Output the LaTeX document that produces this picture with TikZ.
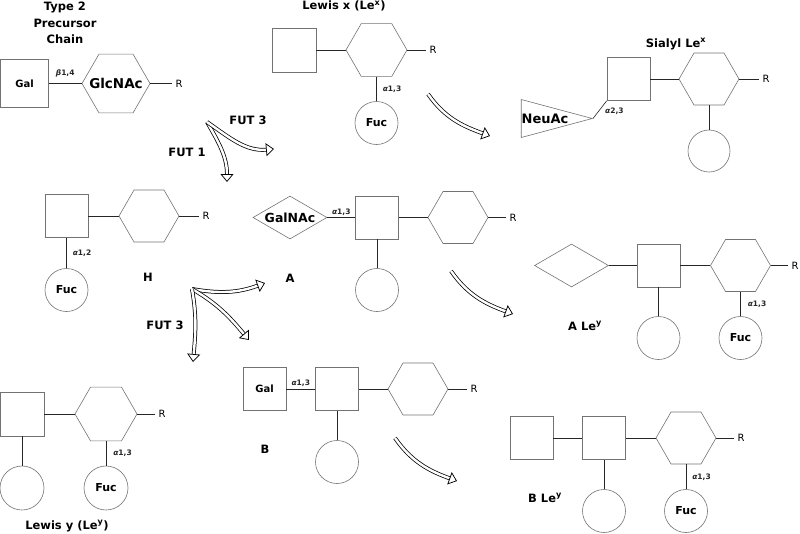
\documentclass[tikz,border=0pt]{standalone}
\usepackage{fontspec}
\setmainfont{DejaVu Sans}
\usetikzlibrary{shapes.geometric, arrows.meta, positioning}
\tikzset{
    base/.style={font=\bfseries\fontsize{11}{13}\selectfont, inner sep=0pt, draw=black!55, line width=0.6pt},
    galsq/.style={base, rectangle, minimum size=43pt},
    hexring/.style={base, regular polygon, regular polygon sides=6, minimum size=60pt},
    fucring/.style={base, circle, minimum size=43pt},
    galnac/.style={base, diamond, minimum width=74pt, minimum height=43pt},
    neutri/.style={base, isosceles triangle, isosceles triangle stretches, minimum width=38pt, minimum height=71pt},
    bigtext/.style={font=\bfseries\fontsize{12.5}{14}\selectfont, inner sep=0pt},
    rest/.style={font=\fontsize{10}{12}\selectfont, inner sep=3pt},
    bond/.style={line width=0.6pt, color=black!85},
    linkage/.style={font=\bfseries\fontsize{7.5}{9}\selectfont, inner sep=1pt},
    title/.style={font=\bfseries\fontsize{11.5}{16.5}\selectfont, align=center},
    hollow/.style={line width=0.75pt, double=white, double distance=2.4pt, -{Triangle[open, length=8pt, width=13pt]}}
}
\newcommand{\alp}{{\itshape α}}
\newcommand{\bet}{{\itshape β}}
\begin{document}
\begin{tikzpicture}[x=1pt, y=1pt]
    \useasboundingbox (0,0) rectangle (800,-533);

    % Type 2 precursor chain
    \node[title] (tType) at (65,-23) {Type 2\\Precursor\\Chain};
    \node[galsq, minimum size=48pt, font=\bfseries\fontsize{10}{12}\selectfont] (gal0) at (24.5,-83.5) {Gal};
    \node[hexring, minimum size=68pt, label={[bigtext, font=\bfseries\fontsize{13.5}{15}\selectfont]center:GlcNAc}] (glc0) at (116,-83.5) {};
    \node[rest] (r0) at (179,-83.5) {R};
    \draw[bond] (gal0) -- (glc0) node[linkage, midway, above=5pt] {\bet1,4};
    \draw[bond] (glc0) -- (r0);

    % Lewis x
    \node[title] (tLx) at (344,-6) {Lewis x (Le\textsuperscript{x})};
    \node[galsq, minimum size=44pt] (galLx) at (294,-50) {};
    \node[hexring, minimum size=61pt] (glcLx) at (376.5,-50) {};
    \node[rest] (rLx) at (433,-50) {R};
    \node[fucring] (fucLx) at (376.5,-123) {Fuc};
    \draw[bond] (galLx) -- (glcLx);
    \draw[bond] (glcLx) -- (rLx);
    \draw[bond] (glcLx) -- (fucLx) node[linkage, midway, right=5pt] {\alp1,3};

    % Sialyl Lewis x
    \node[title] (tSLx) at (676,-44) {Sialyl Le\textsuperscript{x}};
    \node[galsq] (galSLx) at (628.5,-79) {};
    \node[hexring] (glcSLx) at (709,-79) {};
    \node[rest] (rSLx) at (766,-79) {R};
    \node[fucring, minimum size=42pt] (fucSLx) at (709,-151) {};
    \node[neutri, anchor=apex] (neuSLx) at (593,-118.5) {};
    \node[bigtext, font=\bfseries\fontsize{13}{15}\selectfont] (neuText) at (545,-119) {NeuAc};
    \draw[bond] (galSLx) -- (glcSLx);
    \draw[bond] (glcSLx) -- (rSLx);
    \draw[bond] (glcSLx) -- (fucSLx);
    \draw[bond] (neuSLx.apex) -- (galSLx.south west) node[linkage, midway, right=4pt, yshift=-2pt] {\alp2,3};

    % H
    \node[galsq] (galH) at (66.5,-216) {};
    \node[hexring] (glcH) at (149,-216) {};
    \node[rest] (rH) at (206,-216) {R};
    \node[fucring] (fucH) at (66.5,-290) {Fuc};
    \node[title] (tH) at (148,-277) {H};
    \draw[bond] (galH) -- (glcH);
    \draw[bond] (glcH) -- (rH);
    \draw[bond] (galH) -- (fucH) node[linkage, midway, right=5pt] {\alp1,2};

    % A
    \node[galnac, label={[bigtext]center:GalNAc}] (nacA) at (290,-217.5) {};
    \node[galsq] (galA) at (377,-217.5) {};
    \node[hexring] (glcA) at (458,-217.5) {};
    \node[rest] (rA) at (513,-217.5) {R};
    \node[fucring] (fucA) at (377,-290) {};
    \node[title] (tA) at (290,-278) {A};
    \draw[bond] (nacA) -- (galA) node[linkage, midway, above=1pt] {\alp1,3};
    \draw[bond] (galA) -- (glcA);
    \draw[bond] (glcA) -- (rA);
    \draw[bond] (galA) -- (fucA);

    % A Lewis y
    \node[galnac] (nacALy) at (571.5,-265.5) {};
    \node[galsq] (galALy) at (658.5,-265.5) {};
    \node[hexring] (glcALy) at (740.5,-265.5) {};
    \node[rest] (rALy) at (795,-265.5) {R};
    \node[fucring] (fuc1ALy) at (658.5,-338) {};
    \node[fucring] (fuc2ALy) at (740.5,-338) {Fuc};
    \node[title] (tALy) at (585,-326) {A Le\textsuperscript{y}};
    \draw[bond] (nacALy) -- (galALy);
    \draw[bond] (galALy) -- (glcALy);
    \draw[bond] (glcALy) -- (rALy);
    \draw[bond] (galALy) -- (fuc1ALy);
    \draw[bond] (glcALy) -- (fuc2ALy) node[linkage, midway, right=6pt] {\alp1,3};

    % Lewis y
    \node[galsq, minimum size=44pt] (galLy) at (22,-414) {};
    \node[hexring, minimum size=62pt] (glcLy) at (106,-414) {};
    \node[rest] (rLy) at (162,-414) {R};
    \node[fucring, minimum size=44pt] (fuc1Ly) at (22,-488) {};
    \node[fucring, minimum size=44pt] (fuc2Ly) at (106,-488) {Fuc};
    \node[title] (tLy) at (67,-526) {Lewis y (Le\textsuperscript{y})};
    \draw[bond] (galLy) -- (glcLy);
    \draw[bond] (glcLy) -- (rLy);
    \draw[bond] (galLy) -- (fuc1Ly);
    \draw[bond] (glcLy) -- (fuc2Ly) node[linkage, midway, right=6pt] {\alp1,3};

    % B
    \node[galsq, font=\bfseries\fontsize{10}{12}\selectfont] (gal2B) at (264.5,-389) {Gal};
    \node[galsq] (galB) at (337,-389) {};
    \node[hexring] (glcB) at (418,-389) {};
    \node[rest] (rB) at (474,-389) {R};
    \node[fucring] (fucB) at (337,-462) {};
    \node[title] (tB) at (265,-449) {B};
    \draw[bond] (gal2B) -- (galB) node[linkage, midway, above=1pt] {\alp1,3};
    \draw[bond] (galB) -- (glcB);
    \draw[bond] (glcB) -- (rB);
    \draw[bond] (galB) -- (fucB);

    % B Lewis y
    \node[galsq] (gal2BLy) at (531.5,-438) {};
    \node[galsq] (galBLy) at (604,-438) {};
    \node[hexring] (glcBLy) at (686,-438) {};
    \node[rest] (rBLy) at (741,-438) {R};
    \node[fucring] (fuc1BLy) at (604,-511) {};
    \node[fucring] (fuc2BLy) at (686,-511) {Fuc};
    \node[title] (tBLy) at (545,-498) {B Le\textsuperscript{y}};
    \draw[bond] (gal2BLy) -- (galBLy);
    \draw[bond] (galBLy) -- (glcBLy);
    \draw[bond] (glcBLy) -- (rBLy);
    \draw[bond] (galBLy) -- (fuc1BLy);
    \draw[bond] (glcBLy) -- (fuc2BLy) node[linkage, midway, right=5pt] {\alp1,3};

    % enzyme arrows
    \coordinate (fork1) at (207,-122);
    \coordinate (toH) at (227,-182);
    \coordinate (toLx) at (274,-149);
    \draw[hollow] (fork1) to[out=-60, in=90] (toH);
    \draw[hollow] (fork1) to[out=-35, in=185] (toLx);
    \node[title] (fut3a) at (248,-120) {FUT 3};
    \node[title] (fut1) at (187,-152) {FUT 1};

    \coordinate (fork2) at (192,-289);
    \coordinate (toA) at (265,-283);
    \coordinate (toB) at (249,-340);
    \coordinate (toLy) at (193,-362);
    \draw[hollow] (fork2) to[out=-10, in=200] (toA);
    \draw[hollow] (fork2) to[out=-30, in=130] (toB);
    \draw[hollow] (fork2) to[out=-80, in=85] (toLy);
    \node[title] (fut3b) at (165,-325) {FUT 3};

    \coordinate (lxStart) at (428,-94);
    \coordinate (lxEnd) at (490,-136);
    \draw[hollow] (lxStart) to[out=-55, in=160] (lxEnd);
    \coordinate (aStart) at (451,-271);
    \coordinate (aEnd) at (513,-314);
    \draw[hollow] (aStart) to[out=-55, in=160] (aEnd);
    \coordinate (bStart) at (395,-438);
    \coordinate (bEnd) at (457,-481);
    \draw[hollow] (bStart) to[out=-55, in=160] (bEnd);
\end{tikzpicture}
\end{document}
